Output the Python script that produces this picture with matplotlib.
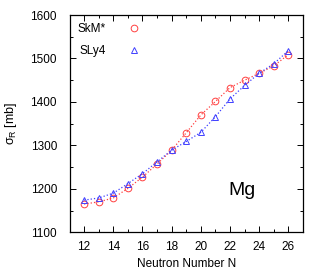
import matplotlib
matplotlib.use("Agg")
import matplotlib.pyplot as plt
from matplotlib.lines import Line2D
from matplotlib.ticker import MultipleLocator

plt.rcParams["font.family"] = ["Liberation Sans Narrow", "Liberation Sans", "DejaVu Sans"]

# ---- data ----
neutron_n = [12, 13, 14, 15, 16, 17, 18, 19, 20, 21, 22, 23, 24, 25, 26]
skm_star = [1165, 1170, 1179, 1201, 1227, 1257, 1289, 1329, 1370, 1401,
            1433, 1450, 1466, 1483, 1509]
sly4 = [1174, 1179, 1190, 1212, 1235, 1262, 1289, 1309, 1330, 1366,
        1407, 1438, 1466, 1488, 1518]

_C_RED = "#ff4040"
_C_BLUE = "#4040ff"
_MS = 4.8

fig = plt.figure(figsize=(3.25, 2.73), dpi=100)
ax = fig.add_axes([69.5 / 325, 1 - 232.3 / 273, (303 - 69.5) / 325, (232.3 - 15) / 273])

ax.plot(neutron_n, skm_star, color=_C_RED, linestyle=":", linewidth=0.9,
        marker="o", markersize=_MS, markerfacecolor="none", markeredgewidth=0.7)
ax.plot(neutron_n, sly4, color=_C_BLUE, linestyle=":", linewidth=0.9,
        marker="^", markersize=_MS, markerfacecolor="none", markeredgewidth=0.7)

ax.set_xlim(11, 27)
ax.set_ylim(1100, 1600)
ax.xaxis.set_major_locator(MultipleLocator(2))
ax.xaxis.set_minor_locator(MultipleLocator(1))
ax.yaxis.set_major_locator(MultipleLocator(100))
ax.yaxis.set_minor_locator(MultipleLocator(50))
ax.tick_params(which="both", direction="in", top=True, right=True,
               labelsize=8.5, width=0.7)
ax.tick_params(which="major", length=4)
ax.tick_params(axis="y", which="major", pad=9)
ax.tick_params(axis="x", which="major", pad=6)
ax.tick_params(which="minor", length=2)
for sp in ax.spines.values():
    sp.set_linewidth(0.9)

ax.set_xlabel("Neutron Number N", fontsize=8.5, labelpad=4)
ax.set_ylabel(r"$\mathregular{\sigma_R}$ [mb]", fontsize=9, labelpad=8)

ax.text(22.8, 1197, "Mg", fontsize=14, ha="center", va="center")

handles = [
    Line2D([], [], color=_C_RED, linestyle="none", marker="o", markersize=_MS,
           markerfacecolor="none", markeredgewidth=0.7),
    Line2D([], [], color=_C_BLUE, linestyle="none", marker="^", markersize=_MS,
           markerfacecolor="none", markeredgewidth=0.7),
]
ax.legend(handles, ["SkM*", "SLy4"], loc="upper left", frameon=False,
          markerfirst=False, fontsize=8.5, handlelength=1.5, handletextpad=1.6,
          labelspacing=0.85, borderaxespad=0.3)

fig.savefig("out.png", dpi=100)
